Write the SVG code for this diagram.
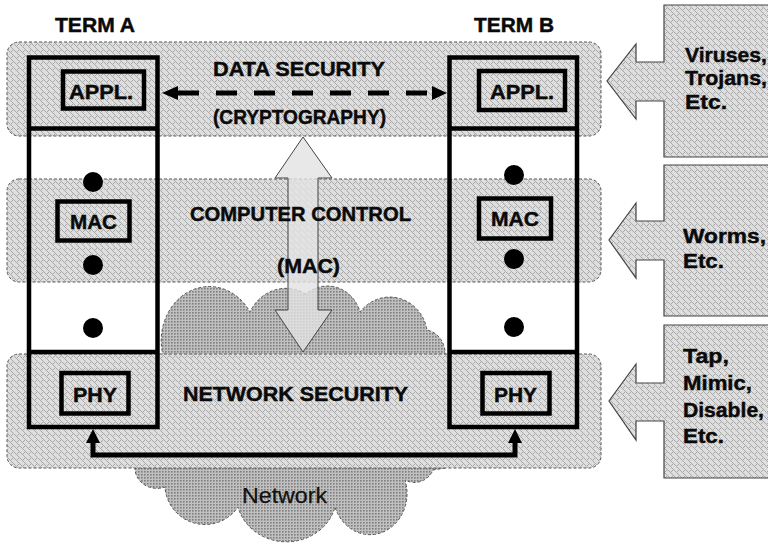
<svg xmlns="http://www.w3.org/2000/svg" width="768" height="551" viewBox="0 0 768 551">
  <defs>
    <!-- fine woven texture used for the security layers and threat boxes -->
    <pattern id="texLight" width="6" height="6" patternUnits="userSpaceOnUse">
      <rect width="6" height="6" fill="#dedede"/>
      <path d="M0,3 L1.5,1.5 L3,3 L4.5,4.5 L6,3 M0,0 L1.5,1.5 M4.5,4.5 L6,6" stroke="#a2a2a2" stroke-width="0.9" fill="none"/>
    </pattern>
    <!-- denser, darker dot texture used for the network cloud -->
    <pattern id="texDark" width="3" height="3" patternUnits="userSpaceOnUse">
      <rect width="3" height="3" fill="#c0c0c0"/>
      <rect width="1.6" height="1.6" fill="#7e7e7e"/>
    </pattern>
  </defs>
  <style>
    .band { fill: url(#texLight); stroke: #555; stroke-width: 1; stroke-dasharray: 3 2; }
    .cloud { fill: url(#texDark); stroke: #555; stroke-width: 1; stroke-dasharray: 3 2; }
    .threat { fill: url(#texLight); stroke: #444; stroke-width: 1.2; }
    .col { fill: none; stroke: #000; stroke-width: 4.5; }
    .box { fill: none; stroke: #000; stroke-width: 4.5; }
    .dot { fill: #000; }
    .lbl { font-family: "Liberation Sans", Arial, sans-serif; font-weight: bold; font-size: 21px; fill: #0a0a0a; stroke: #0a0a0a; stroke-width: 0.45; }
    .plain { font-family: "Liberation Sans", Arial, sans-serif; font-size: 22px; fill: #111; stroke: #111; stroke-width: 0.25; }
    .link { fill: none; stroke: #000; stroke-width: 5; }
    .crypto { fill: none; stroke: #000; stroke-width: 5; stroke-dasharray: 21 17; }
    .bigarrow { fill: #e2e2e2; fill-opacity: 0.8; stroke: #444; stroke-width: 1; }
  </style>

  <rect width="768" height="551" fill="#fff"/>

  <!-- network cloud (mostly covered by the network-security layer) -->
  <g id="network">
    <path class="cloud" d="M135,468 L163,355 A48,54 0 0 1 250,312 A40,42 0 0 1 306,294 A34,36 0 0 1 360,312 A38,40 0 0 1 427,330 A22,24 0 0 1 445,356 L445,468 L433,470 A20,20 0 0 1 405,480 A36,40 0 0 1 335,507 A50,46 0 0 1 238,507 A40,40 0 0 1 165,487 A22,20 0 0 1 135,468 Z"/>
    <text class="plain" x="242" y="503" textLength="85" lengthAdjust="spacingAndGlyphs">Network</text>
  </g>

  <!-- protection layers -->
  <g id="layer-data">
    <rect class="band" x="7" y="42" width="594" height="94" rx="12"/>
  </g>
  <g id="layer-computer">
    <rect class="band" x="7" y="179" width="594" height="103" rx="12"/>
  </g>
  <g id="layer-network">
    <rect class="band" x="7" y="354" width="594" height="114" rx="12"/>
  </g>

  <!-- mandatory access control arrow across the layers -->
  <g id="mac-arrow">
    <polygon class="bigarrow" points="303,137 332,178 318,178 318,310 332,310 303,352 275,310 288,310 288,178 275,178"/>
  </g>

  <!-- layer titles -->
  <g id="layer-labels">
    <text class="lbl" x="213" y="76" textLength="172" lengthAdjust="spacingAndGlyphs">DATA SECURITY</text>
    <text class="lbl" x="213" y="124" textLength="173" lengthAdjust="spacingAndGlyphs">(CRYPTOGRAPHY)</text>
    <text class="lbl" x="190" y="221" textLength="221" lengthAdjust="spacingAndGlyphs">COMPUTER CONTROL</text>
    <text class="lbl" x="277" y="273" textLength="63" lengthAdjust="spacingAndGlyphs">(MAC)</text>
    <text class="lbl" x="183" y="401" textLength="225" lengthAdjust="spacingAndGlyphs">NETWORK SECURITY</text>
  </g>

  <!-- terminal A -->
  <g id="term-a">
    <text class="lbl" x="55" y="32" textLength="80" lengthAdjust="spacingAndGlyphs">TERM A</text>
    <rect class="col" x="29" y="57.5" width="128.5" height="369.5"/>
    <line class="col" x1="29" y1="128.5" x2="157.5" y2="128.5"/>
    <line class="col" x1="29" y1="352" x2="157.5" y2="352"/>
    <circle class="dot" cx="93" cy="182" r="10"/>
    <circle class="dot" cx="93" cy="265" r="10"/>
    <circle class="dot" cx="93" cy="328" r="10"/>
  </g>
  <g id="appl-a">
    <rect class="box" x="63" y="71.5" width="81" height="37"/>
    <text class="lbl" x="69" y="99" textLength="64" lengthAdjust="spacingAndGlyphs">APPL.</text>
  </g>
  <g id="mac-a">
    <rect class="box" x="57.5" y="201.5" width="72" height="39"/>
    <text class="lbl" x="70" y="229" textLength="47" lengthAdjust="spacingAndGlyphs">MAC</text>
  </g>
  <g id="phy-a">
    <rect class="box" x="61.5" y="373" width="67" height="40.5"/>
    <text class="lbl" x="73" y="402" textLength="44" lengthAdjust="spacingAndGlyphs">PHY</text>
  </g>

  <!-- terminal B -->
  <g id="term-b">
    <text class="lbl" x="474" y="32" textLength="80" lengthAdjust="spacingAndGlyphs">TERM B</text>
    <rect class="col" x="449.5" y="57.5" width="127.5" height="369.5"/>
    <line class="col" x1="449.5" y1="128.5" x2="577" y2="128.5"/>
    <line class="col" x1="449.5" y1="352" x2="577" y2="352"/>
    <circle class="dot" cx="514" cy="175" r="10"/>
    <circle class="dot" cx="514" cy="259" r="10"/>
    <circle class="dot" cx="514" cy="327" r="10"/>
  </g>
  <g id="appl-b">
    <rect class="box" x="479" y="71" width="86" height="39"/>
    <text class="lbl" x="490" y="99" textLength="64" lengthAdjust="spacingAndGlyphs">APPL.</text>
  </g>
  <g id="mac-b">
    <rect class="box" x="479" y="198.5" width="72" height="40"/>
    <text class="lbl" x="491" y="226" textLength="48" lengthAdjust="spacingAndGlyphs">MAC</text>
  </g>
  <g id="phy-b">
    <rect class="box" x="482.5" y="373" width="67" height="40.5"/>
    <text class="lbl" x="494" y="402" textLength="43" lengthAdjust="spacingAndGlyphs">PHY</text>
  </g>

  <!-- threats arriving from outside -->
  <g id="threat-app">
    <path class="threat" d="M770,5 H664 V62 H636 V44 L607,81 L636,119 V101 H664 V157 H770"/>
    <text class="lbl" x="685" y="62" textLength="82" lengthAdjust="spacingAndGlyphs">Viruses,</text>
    <text class="lbl" x="685" y="85" textLength="82" lengthAdjust="spacingAndGlyphs">Trojans,</text>
    <text class="lbl" x="685" y="109" textLength="42" lengthAdjust="spacingAndGlyphs">Etc.</text>
  </g>
  <g id="threat-computer">
    <path class="threat" d="M770,165 H664 V221 H636 V203 L609,240 L636,278 V260 H664 V316 H770"/>
    <text class="lbl" x="683" y="243" textLength="83" lengthAdjust="spacingAndGlyphs">Worms,</text>
    <text class="lbl" x="683" y="268" textLength="41" lengthAdjust="spacingAndGlyphs">Etc.</text>
  </g>
  <g id="threat-network">
    <path class="threat" d="M770,325 H664 V383 H636 V364 L609,401 L636,440 V421 H664 V478 H770"/>
    <text class="lbl" x="683" y="363" textLength="46" lengthAdjust="spacingAndGlyphs">Tap,</text>
    <text class="lbl" x="683" y="390" textLength="69" lengthAdjust="spacingAndGlyphs">Mimic,</text>
    <text class="lbl" x="683" y="417" textLength="81" lengthAdjust="spacingAndGlyphs">Disable,</text>
    <text class="lbl" x="683" y="443" textLength="41" lengthAdjust="spacingAndGlyphs">Etc.</text>
  </g>

  <!-- connectors -->
  <g id="connectors">
    <line class="crypto" x1="178" y1="93" x2="432" y2="93"/>
    <polygon points="162,93 178,86 178,100" fill="#000"/>
    <polygon points="447,93 432,86 432,100" fill="#000"/>
    <polyline class="link" points="93,442 93,455 515,455 515,442"/>
    <polygon points="93,429 86,443 100,443" fill="#000"/>
    <polygon points="515,429 508,443 522,443" fill="#000"/>
  </g>
</svg>
